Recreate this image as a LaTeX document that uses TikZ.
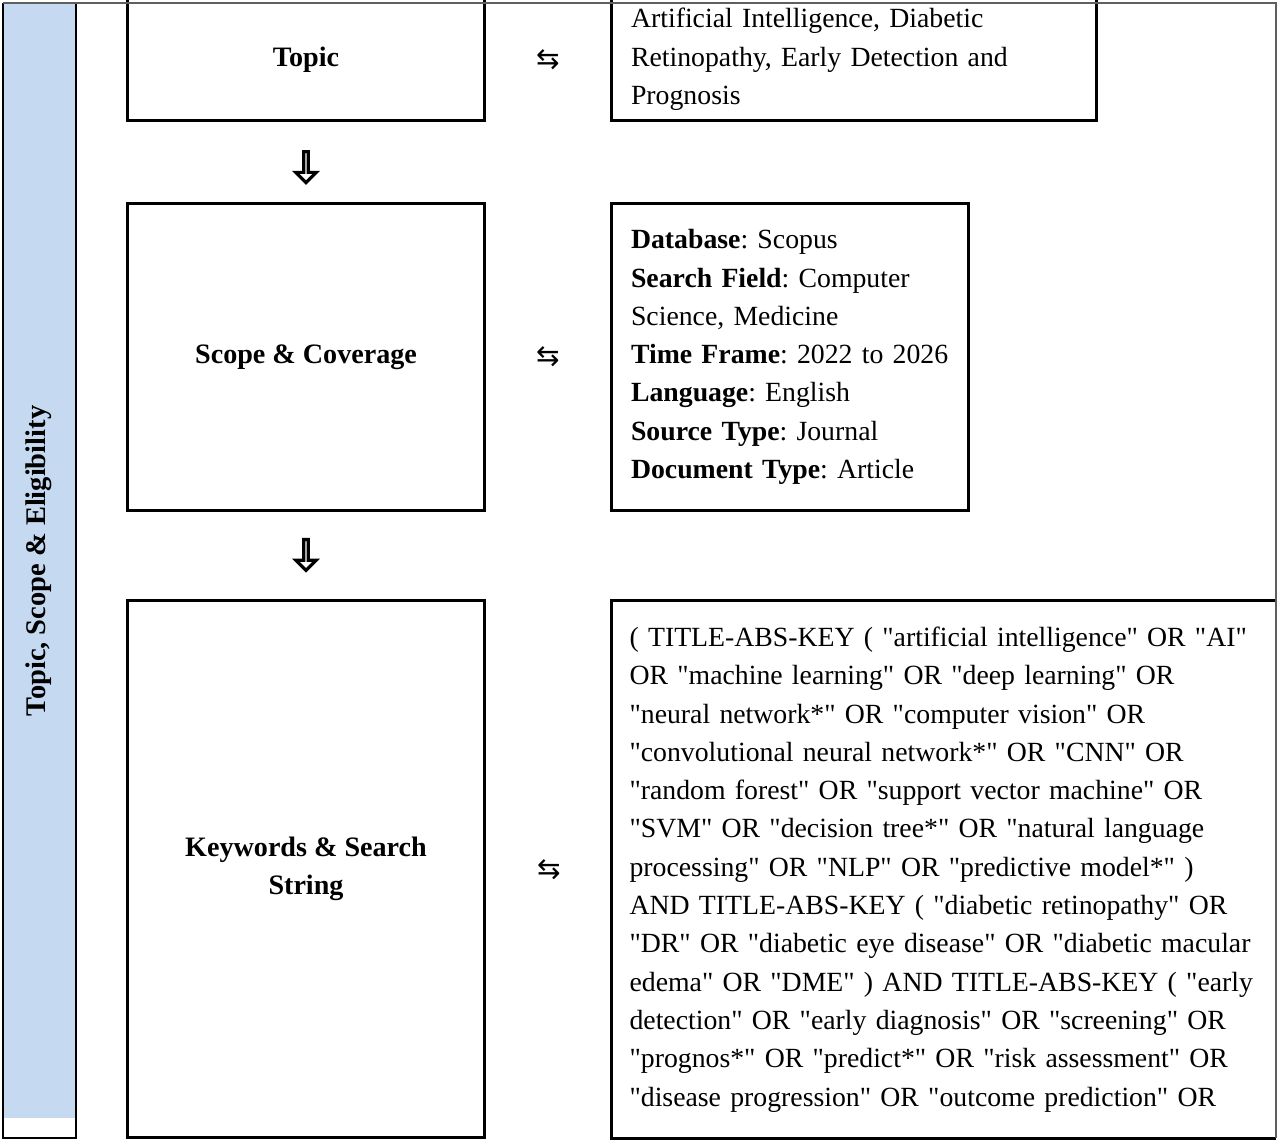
\documentclass[tikz,border=0pt]{standalone}
\usepackage{fontspec}
\setmainfont{Liberation Serif}[Ligatures=TeXOff]
\newfontfamily\symfont{DejaVu Sans}
\usetikzlibrary{shapes.arrows}
\definecolor{barblue}{RGB}{197,217,241}
\definecolor{framegray}{RGB}{95,95,95}
\frenchspacing

\begin{document}
\begin{tikzpicture}[x=0.02cm, y=-0.02cm,
    stepbox/.style={draw, line width=1.7pt, align=center, inner sep=0pt,
        minimum width=7.16cm, font=\fontsize{16}{21.8}\selectfont\bfseries},
    infobox/.style={line width=1.7pt, align=left, inner xsep=0.4cm, inner ysep=0pt,
        font=\fontsize{15.8}{21.8}\selectfont},
    flowarrow/.style={draw, line width=1.8pt, single arrow, shape border rotate=270,
        minimum height=0.62cm, minimum width=0.41cm, single arrow head extend=0.11cm,
        single arrow tip angle=90, inner sep=0pt},
    swapmark/.style={font=\fontsize{16}{16}\symfont}]
    \useasboundingbox (0,0) rectangle (1280,1143);

    % Side bar
    \fill[barblue] (3,3) rectangle (75,1118);
    \draw[line width=0.8pt] (3,3) -- (3,1138) -- (76,1138);
    \draw[line width=1.7pt] (76,3) -- (76,1139);
    \node[rotate=90, font=\fontsize{16.2}{19}\selectfont\bfseries] (bartitle) at (39,561) {Topic, Scope \& Eligibility};

    % Steps on the left
    \node[stepbox, minimum height=2.46cm] (topic) at (306,59.5) {Topic};
    \node[stepbox, minimum height=6.16cm] (scope) at (306,357) {Scope \& Coverage};
    \node[stepbox, minimum height=10.76cm] (keywords) at (306,869) {Keywords \& Search\\String};

    % Details on the right
    \node[infobox, draw, text width=8.92cm, minimum height=2.46cm] (topicinfo) at (854,59.5)
        {Artificial Intelligence, Diabetic\\Retinopathy, Early Detection and\\Prognosis};
    \node[infobox, draw, text width=6.36cm, minimum height=6.16cm] (scopeinfo) at (790,357)
        {\textbf{Database}: Scopus\\
         \textbf{Search Field}: Computer\\
         Science, Medicine\\
         \textbf{Time Frame}: 2022 to 2026\\
         \textbf{Language}: English\\
         \textbf{Source Type}: Journal\\
         \textbf{Document Type}: Article};
    \node[infobox, outer sep=0pt, inner xsep=0.36cm, text width=12.58cm, minimum height=10.76cm] (keyinfo) at (944,869.5)
        {( TITLE-ABS-KEY ( "artificial intelligence" OR "AI"\\
         OR "machine learning" OR "deep learning" OR\\
         "neural network*" OR "computer vision" OR\\
         "convolutional neural network*" OR "CNN" OR\\
         "random forest" OR "support vector machine" OR\\
         "SVM" OR "decision tree*" OR "natural language\\
         processing" OR "NLP" OR "predictive model*" )\\
         AND TITLE-ABS-KEY ( "diabetic retinopathy" OR\\
         "DR" OR "diabetic eye disease" OR "diabetic macular\\
         edema" OR "DME" ) AND TITLE-ABS-KEY ( "early\\
         detection" OR "early diagnosis" OR "screening" OR\\
         "prognos*" OR "predict*" OR "risk assessment" OR\\
         "disease progression" OR "outcome prediction" OR};
    \draw[line width=1.7pt] (keyinfo.north east) -- (keyinfo.north west)
        -- (keyinfo.south west) -- (keyinfo.south east);

    % Outer frame
    \draw[framegray, line width=1pt] (3,3) -- (1276,3) -- (1276,1138);

    % Flow arrows
    \path (topic.south) -- (scope.north) node[pos=0.55, flowarrow] (down1) {};
    \path (scope.south) -- (keywords.north) node[pos=0.48, flowarrow] (down2) {};

    % Links to details
    \path (topic.east) -- (topicinfo.west) node[midway, swapmark] (swap1) {⇆};
    \path (scope.east) -- (scopeinfo.west) node[midway, swapmark] (swap2) {⇆};
    \path (keywords.east) -- (keyinfo.west) node[midway, swapmark] (swap3) {⇆};
\end{tikzpicture}
\end{document}
